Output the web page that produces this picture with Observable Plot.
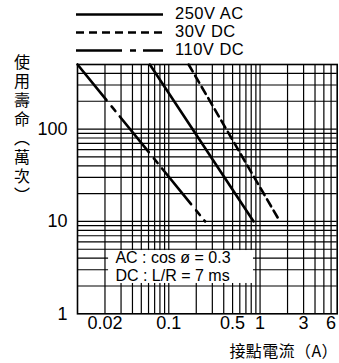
<!DOCTYPE html>
<html><head><meta charset="utf-8">
<script src="https://cdn.jsdelivr.net/npm/d3@7"></script>
<script src="https://cdn.jsdelivr.net/npm/@observablehq/plot@0.6"></script>
<style>
html,body{margin:0;padding:0;background:#fff;}
#chart{position:relative;width:339px;height:363px;overflow:hidden;font-family:"Liberation Sans",Arial,sans-serif;color:#000;}
#chart svg.plot{position:absolute;left:0;top:0;}
#legend{position:absolute;left:0;top:0;}
#ylabel{position:absolute;left:12px;top:54px;writing-mode:vertical-rl;text-orientation:upright;font-family:"Noto Sans CJK TC",sans-serif;font-size:16px;letter-spacing:3px;line-height:20px;}
#xlabel{position:absolute;right:1px;top:340px;font-family:"Noto Sans CJK TC",sans-serif;font-size:16px;letter-spacing:0.4px;line-height:20px;}
</style></head><body>
<div id="chart"><div id="ylabel">使用壽命（萬次）</div><div id="xlabel">接點電流（A）</div></div>
<script>
// ---- data ----
const seriesNames = ["250V AC", "30V DC", "110V DC"];
const current250AC = [0.062, 0.85];
const life250AC = [500, 10];
const current30DC = [0.165, 1.65];
const life30DC = [500, 10];
const current110DC = [0.01, 0.25];
const life110DC = [500, 10];
const xTicks = [0.02, 0.1, 0.5, 1, 3, 6];
const yTicks = [1, 10, 100];
const xGrid = [0.02,0.03,0.04,0.05,0.06,0.07,0.08,0.09,0.1,0.2,0.3,0.4,0.5,0.6,0.7,0.8,0.9,1,2,3,4,5,6];
const yGrid = [2,3,4,5,6,7,8,9,10,20,30,40,50,60,70,80,90,100,200,300,400];
const xDomain = [0.01, 7];
const yDomain = [1, 500];
const noteLines = ["AC : cos ø = 0.3", "DC : L/R = 7 ms"];
const noteX = 0.026;
const noteY = [4.02, 2.6];
const noteBox = [{x1: 0.0219, x2: 0.847, y1: 2.13, y2: 4.84}];

// ---- build ----
const seriesData = [
  {name: seriesNames[0], x: current250AC, y: life250AC, dash: null},
  {name: seriesNames[1], x: current30DC, y: life30DC, dash: "8,5"},
  {name: seriesNames[2], x: current110DC, y: life110DC, dash: "46,8,6,7"}
];
const rows = s => s.x.map((v, i) => ({series: s.name, current: v, life: s.y[i]}));

const plot = Plot.plot({
  width: 339, height: 363,
  marginLeft: 77, marginRight: 2.3, marginTop: 64, marginBottom: 49.7,
  style: {fontFamily: "Liberation Sans, Arial, sans-serif", fontSize: "18px", background: "transparent", color: "#000"},
  x: {type: "log", domain: xDomain, axis: null},
  y: {type: "log", domain: yDomain, axis: null},
  marks: [
    Plot.ruleX(xGrid, {stroke: "#000", strokeWidth: 1.2}),
    Plot.ruleY(yGrid, {stroke: "#000", strokeWidth: 1.2}),
    Plot.rect(noteBox, {x1: "x1", x2: "x2", y1: "y1", y2: "y2", fill: "#fff"}),
    Plot.text(noteLines, {x: () => noteX, y: (d, i) => noteY[i], text: d => d, textAnchor: "start", fontSize: 16, fill: "#000", style: "letter-spacing:1px"}),
    ...seriesData.map(s => Plot.line(rows(s), {x: "current", y: "life", stroke: "#000", strokeWidth: 2.6, strokeDasharray: s.dash || undefined})),
    Plot.frame({stroke: "#000", strokeWidth: 1.6}),
    Plot.text(xTicks, {x: d => d, frameAnchor: "bottom", dy: 15, text: d => String(d), fontSize: 18, fill: "#000"}),
    Plot.text(yTicks, {y: d => d, frameAnchor: "left", dx: -10, textAnchor: "end", text: d => String(d), fontSize: 18, fill: "#000"})
  ]
});
plot.classList.add("plot");
const chart = document.getElementById("chart");
chart.insertBefore(plot, chart.firstChild);

// legend
const legend = d3.select("#chart").append("svg").attr("id", "legend").attr("width", 339).attr("height", 62);
const rowY = [14.5, 32.5, 50.5];
seriesData.forEach((s, i) => {
  const g = legend.append("g").attr("transform", `translate(0,${rowY[i]})`);
  g.append("line").attr("x1", 76).attr("x2", 163).attr("y1", 0).attr("y2", 0)
    .attr("stroke", "#000").attr("stroke-width", 2.6).attr("stroke-dasharray", s.dash);
  g.append("text").attr("x", 175).attr("y", -1).attr("dy", "0.35em")
    .attr("font-family", "Liberation Sans, Arial, sans-serif").attr("font-size", 16.5).attr("letter-spacing", "0.5px").text(s.name);
});
</script>
</body></html>
